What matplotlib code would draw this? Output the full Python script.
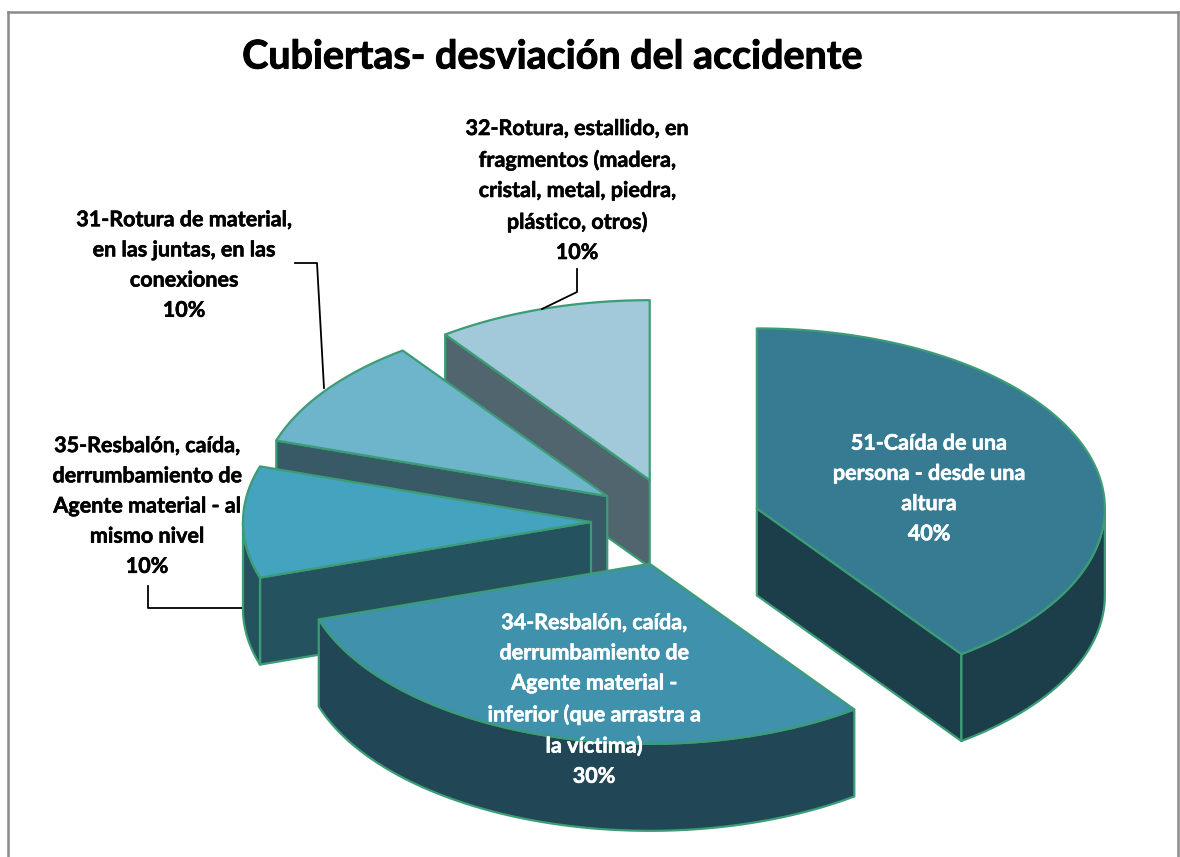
''' Pie 3D explotado - Cubiertas '''
import numpy as np
import matplotlib
matplotlib.use('Agg')
import matplotlib.pyplot as plt
import matplotlib.patheffects as pe
from matplotlib.patches import Polygon

#datos
categorias = ['51-Caída de una\npersona - desde una\naltura',
              '34-Resbalón, caída,\nderrumbamiento de\nAgente material -\ninferior (que arrastra a\nla víctima)',
              '35-Resbalón, caída,\nderrumbamiento de\nAgente material - al\nmismo nivel',
              '31-Rotura de material,\nen las juntas, en las\nconexiones',
              '32-Rotura, estallido, en\nfragmentos (madera,\ncristal, metal, piedra,\nplástico, otros)']
valores = [40, 30, 10, 10, 10]
color_tapa = ['#377b93', '#4091ab', '#44a3bf', '#6eb5cc', '#a1c9da']
color_lado = ['#1b3e4a', '#214756', '#24525f', '#375a66', '#50656e']
color_texto = ['white', 'white', 'black', 'black', 'black']
pos_texto = [(929, 488.5), (594, 699.5), (147, 506), (184, 265), (577, 190.5)]
zorder_texto = [20, 20, 1, 1, 1]

#geometria del pie, en pixeles de la figura
cx, cy = 676, 522
rx, ry = 348, 180
alto = 87
explota = 85
borde = '#3b9c75'

fig = plt.figure(figsize=(11.8, 8.57), dpi=100)
ax = fig.add_axes([0, 0, 1, 1])
ax.set_xlim(0, 1180)
ax.set_ylim(857, 0)
ax.axis('off')


def punto(x0, y0, ang):
    #angulo en grados, horario desde arriba
    t = np.radians(ang)
    return x0 + rx * np.sin(t), y0 - ry * np.cos(t)


def cara(pts, color, z):
    ax.add_patch(Polygon(pts, closed=True, facecolor=color, edgecolor=borde,
                         linewidth=1.6, joinstyle='round', zorder=z))


#porciones: angulos a partir de los valores
fin = np.cumsum(valores) / np.sum(valores) * 360
ini = fin - np.array(valores) / np.sum(valores) * 360
medio = (ini + fin) / 2
ox = cx + explota * np.sin(np.radians(medio))
oy = cy - explota * ry / rx * np.cos(np.radians(medio))

#de atras hacia adelante
orden = np.argsort(oy)
for n, i in enumerate(orden):
    z = 2 + n
    x0, y0 = ox[i], oy[i]
    a, b = ini[i], fin[i]
    #caras radiales visibles
    for ang, visible in ((a, np.sin(np.radians(a)) < -1e-6), (b, np.sin(np.radians(b)) > 1e-6)):
        if visible:
            px, py = punto(x0, y0, ang)
            cara([(x0, y0), (px, py), (px, py + alto), (x0, y0 + alto)], color_lado[i], z)
    #borde exterior, solo la mitad de abajo
    r0, r1 = max(a, 90), min(b, 270)
    if r0 < r1:
        angs = np.linspace(r0, r1, 80)
        arriba = [punto(x0, y0, t) for t in angs]
        abajo = [(px, py + alto) for px, py in arriba]
        cara(arriba + abajo[::-1], color_lado[i], z)
    #tapa
    angs = np.linspace(a, b, 120)
    cara([(x0, y0)] + [punto(x0, y0, t) for t in angs], color_tapa[i], z)

#marco del grafico (sin linea abajo)
ax.plot([8, 8], [857, 12], color='#8a8a8a', lw=1.8, zorder=30, clip_on=False)
ax.plot([8, 1178], [12, 12], color='#8a8a8a', lw=1.8, zorder=30, clip_on=False)
ax.plot([1178, 1178], [12, 857], color='#8a8a8a', lw=1.8, zorder=30, clip_on=False)

#lineas guia
ax.plot([295, 317, 324], [263, 263, 388], color='black', lw=1.3, zorder=1)
ax.plot([577, 577, 542], [269, 292, 309], color='black', lw=1.3, zorder=10)
ax.plot([148, 148, 242], [586, 608, 608], color='black', lw=1.3, zorder=1)

#textos
fuente = ['Lato', 'DejaVu Sans']
ax.text(552, 57, 'Cubiertas- desviación del accidente', ha='center', va='center',
        fontsize=28.4, fontweight='bold', family=fuente, color='black', zorder=20,
        path_effects=[pe.withStroke(linewidth=0.7, foreground='black')])
for i in range(len(valores)):
    ax.text(pos_texto[i][0], pos_texto[i][1], f'{categorias[i]}\n{valores[i]}%',
            ha='center', va='center', multialignment='center', fontsize=15.5,
            fontweight='bold', family=fuente, color=color_texto[i],
            linespacing=1.54, zorder=zorder_texto[i],
            path_effects=[pe.withStroke(linewidth=0.4, foreground=color_texto[i])])

fig.savefig('out.png', dpi=100, facecolor='white')
